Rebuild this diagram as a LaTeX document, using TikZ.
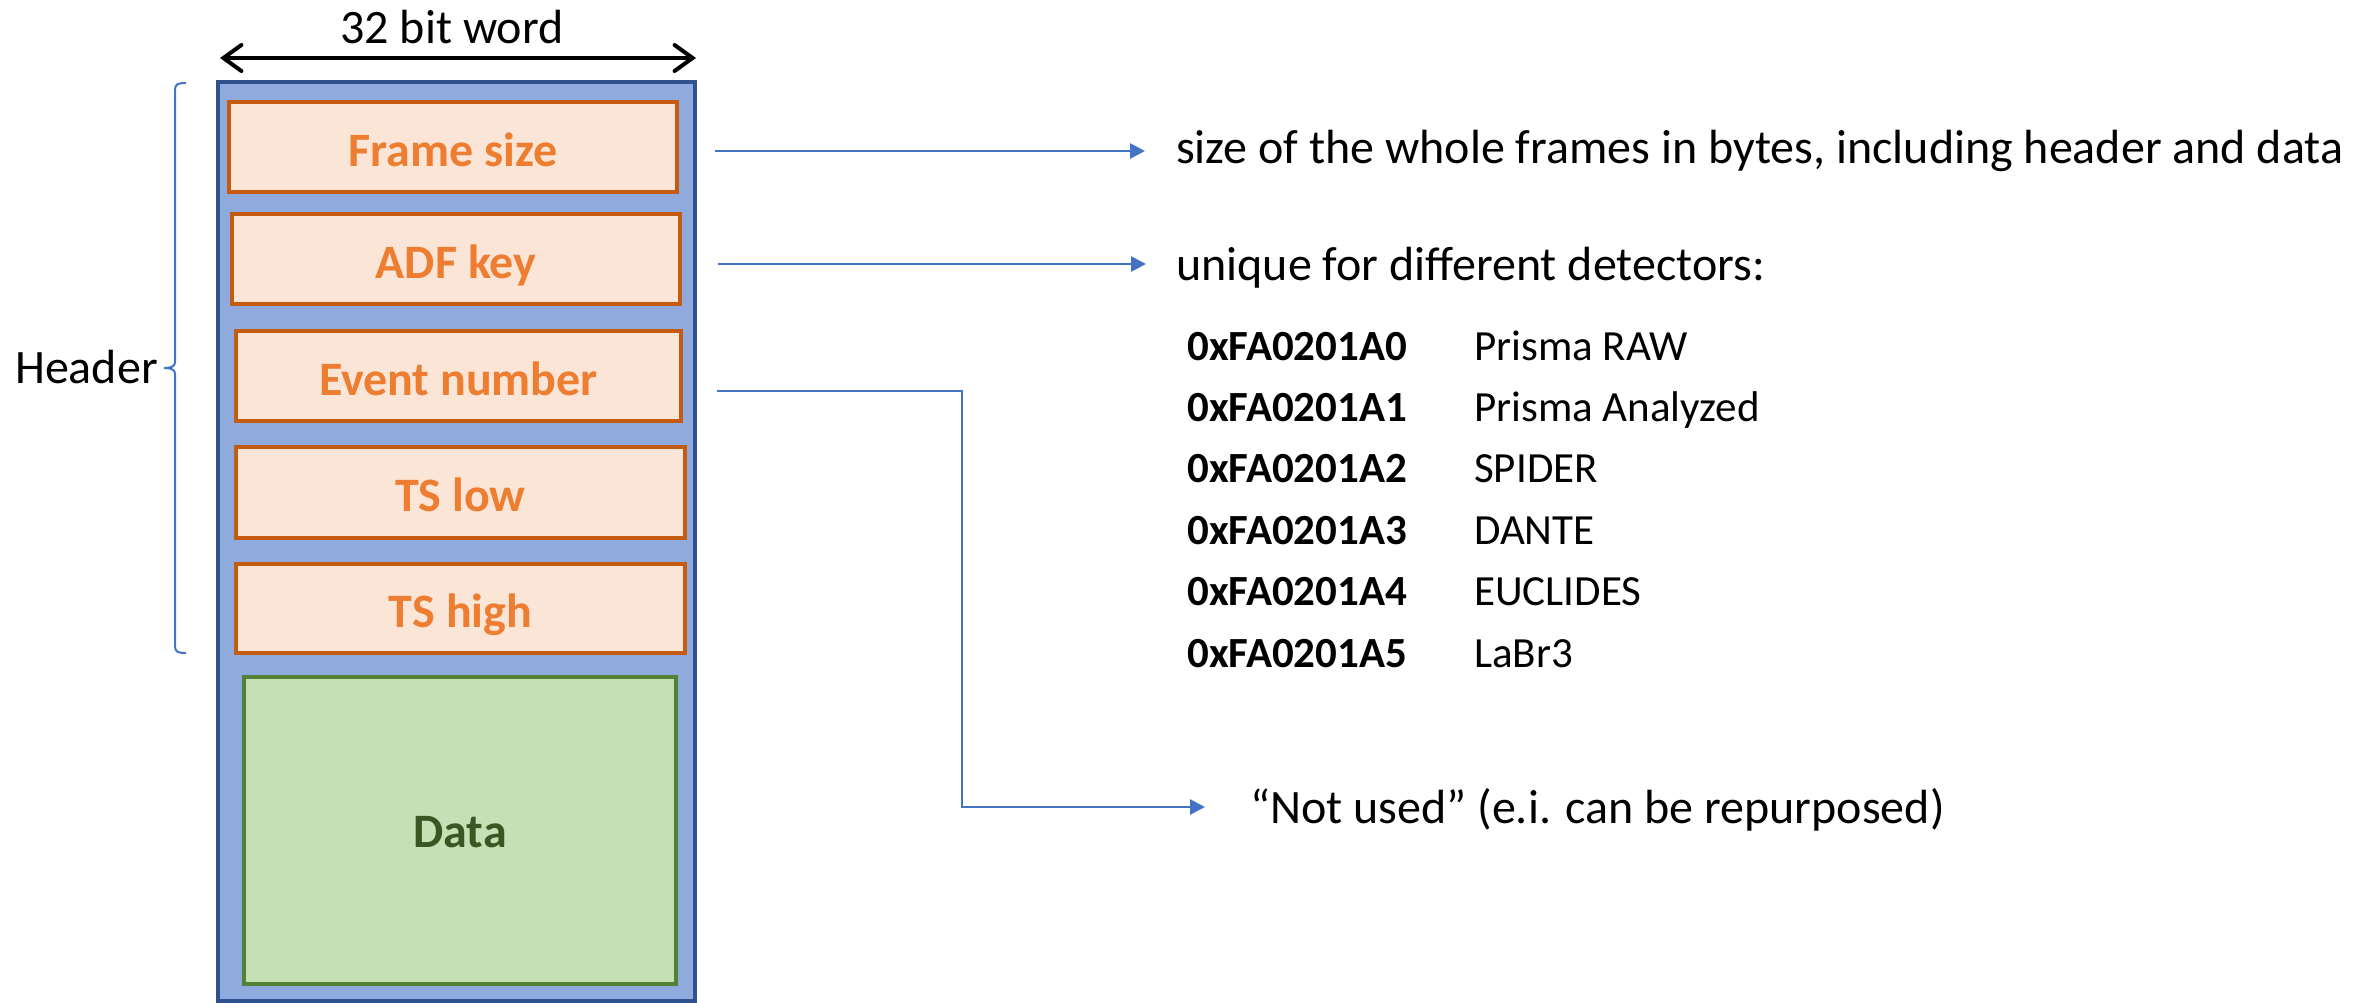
\documentclass[tikz,border=0pt]{standalone}
\usepackage{fontspec}
\setmainfont{Carlito}
\usetikzlibrary{arrows.meta}
\definecolor{outerfill}{HTML}{8FAADC}
\definecolor{outerdraw}{HTML}{2F528F}
\definecolor{orfill}{HTML}{FBE5D6}
\definecolor{ordraw}{HTML}{C55A11}
\definecolor{ortext}{HTML}{ED7D31}
\definecolor{grfill}{HTML}{C5E0B4}
\definecolor{grdraw}{HTML}{548235}
\definecolor{grtext}{HTML}{385723}
\definecolor{conn}{HTML}{4472C4}
\tikzset{
  field/.style={draw=ordraw, fill=orfill, line width=3.5pt, inner sep=0pt,
    text=ortext, font=\fontsize{48}{56}\selectfont\bfseries,
    text height=38pt, text depth=0pt, minimum height=90pt},
  databox/.style={draw=grdraw, fill=grfill, line width=3.5pt, inner sep=0pt,
    text=grtext, font=\fontsize{48}{56}\selectfont\bfseries,
    text height=34pt, text depth=0pt},
  desc/.style={inner sep=0pt, anchor=base west, font=\fontsize{48}{58}\selectfont},
  hex/.style={inner sep=0pt, anchor=base west, font=\fontsize{43}{50}\selectfont\bfseries},
  hexname/.style={inner sep=0pt, anchor=base west, font=\fontsize{43}{50}\selectfont},
  connarrow/.style={draw=conn, line width=2.8pt, -{Triangle[length=15pt,width=15pt]}},
}
\begin{document}
\begin{tikzpicture}[x=1pt, y=-1pt]
\useasboundingbox (0,0) rectangle (2371,1002);
% outer word frame
\draw[draw=outerdraw, fill=outerfill, line width=3.5pt] (218,82) rectangle (695,1001);
% fields
\node[field, minimum width=448pt] (fs) at (453,147) {Frame size};
\node[field, minimum width=448pt] (adf) at (456,259) {ADF key};
\node[field, minimum width=445pt] (ev) at (458.5,376) {Event number};
\node[field, minimum width=449pt, minimum height=91pt] (tsl) at (460.5,492.5) {TS low};
\node[field, minimum width=449pt, minimum height=89pt] (tsh) at (460.5,608.5) {TS high};
\node[databox, minimum width=432pt, minimum height=307pt] (data) at (460,830.5) {Data};
% width arrow
\coordinate (wl) at (220,58);
\coordinate (wr) at (696,58);
\draw[line width=4pt, {Straight Barb[length=18pt,width=26pt,line cap=round]}-{Straight Barb[length=18pt,width=26pt,line cap=round]}] (wl) -- (wr);
\node[inner sep=0pt, anchor=base, font=\fontsize{48}{56}\selectfont] (wtitle) at (452,43) {32 bit word};
% header brace
\draw[draw=conn, line width=2pt] (186,83) .. controls (178,83) and (175,84) .. (175,90) -- (175,362)
  .. controls (175,366) and (172,368) .. (164,368)
  .. controls (172,368) and (175,370) .. (175,374) -- (175,646)
  .. controls (175,652) and (178,653) .. (186,653);
\node[inner sep=0pt, anchor=base east, font=\fontsize{48}{56}\selectfont] (hdr) at (158,383) {Header};
% descriptions
\node[desc] (t1) at (1176,163) {size of the whole frames in bytes, including header and data};
\node[desc] (t2) at (1176,280) {unique for different detectors:};
\node[desc] (t3) at (1250,823) {“Not used” (e.i. can be repurposed)};
\node[hex] (h0) at (1187,360) {0xFA0201A0};
\node[hex] (h1) at (1187,421) {0xFA0201A1};
\node[hex] (h2) at (1187,482) {0xFA0201A2};
\node[hex] (h3) at (1187,544) {0xFA0201A3};
\node[hex] (h4) at (1187,605) {0xFA0201A4};
\node[hex] (h5) at (1187,667) {0xFA0201A5};
\node[hexname] (n0) at (1474,360) {Prisma RAW};
\node[hexname] (n1) at (1474,421) {Prisma Analyzed};
\node[hexname] (n2) at (1474,482) {SPIDER};
\node[hexname] (n3) at (1474,544) {DANTE};
\node[hexname] (n4) at (1474,605) {EUCLIDES};
\node[hexname] (n5) at (1474,667) {LaBr3};
% connectors
\coordinate (a1s) at (715,151);
\coordinate (a1e) at (1145,151);
\coordinate (a2s) at (718,264);
\coordinate (a2e) at (1146,264);
\coordinate (a3s) at (717,391);
\coordinate (a3e) at (1205,807);
\draw[connarrow] (a1s) -- (a1e);
\draw[connarrow] (a2s) -- (a2e);
\draw[connarrow] (a3s) -- (962,391) -- (962,807) -- (a3e);
\end{tikzpicture}
\end{document}
